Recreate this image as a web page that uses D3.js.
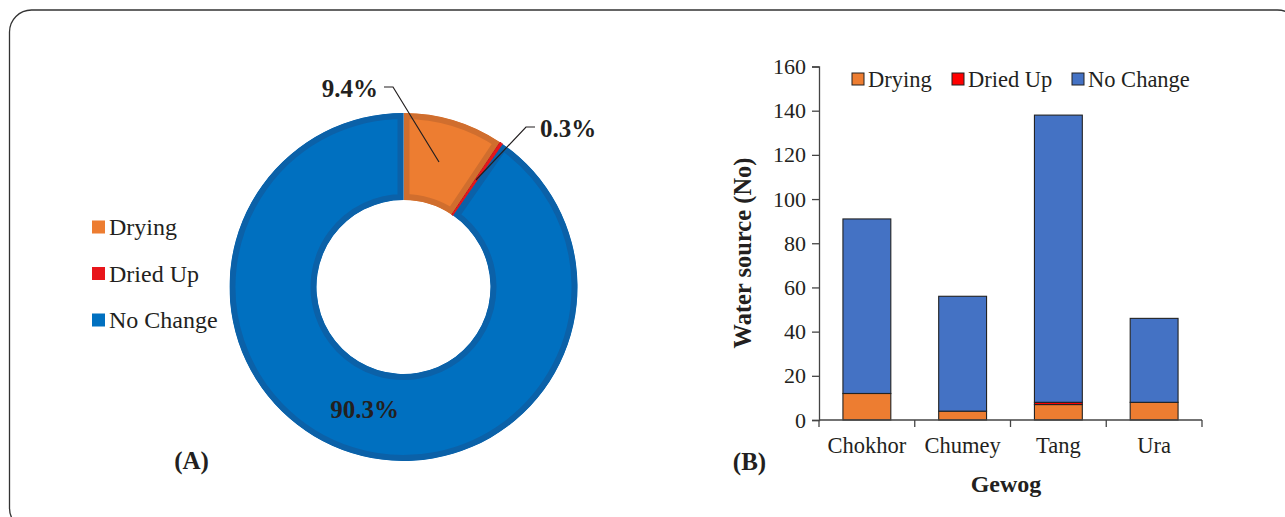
<!DOCTYPE html>
<html><head><meta charset="utf-8">
<script src="https://cdn.jsdelivr.net/npm/d3@7"></script>
<style>body{margin:0;background:#fff}svg{display:block}text{font-family:"Liberation Serif","Times New Roman",serif;fill:#231f20}</style>
</head><body>
<svg id="c" width="1285" height="517"></svg>
<script>
// Donut (A)
const pieCategories = ["Drying", "Dried Up", "No Change"];
const pieValues = [31, 1, 299];
const pieLabels = ["9.4%", "0.3%", "90.3%"];
// Stacked bars (B)
const gewogs = ["Chokhor", "Chumey", "Tang", "Ura"];
const drying = [12, 4, 7, 8];
const driedUp = [0, 0, 1, 0];
const noChange = [79, 52, 130, 38];
const yTicks = [0, 20, 40, 60, 80, 100, 120, 140, 160];

const svg = d3.select("#c");
svg.append("rect").attr("x",9.5).attr("y",10).attr("width",1290).attr("height",520)
  .attr("rx",22).attr("fill","none").attr("stroke","#333").attr("stroke-width",1.3);

// ---------- Donut ----------
const pieFill = ["#ED7D31", "#E8151B", "#0070C0"];
const pieEdge = ["#D06E2E", "#C8141A", "#0B61A8"];
const cx = 403.5, cy = 287, R = 174, r = 87;
const pie = d3.pie().sort(null).value(d => d)(pieValues);
const arc = d3.arc().innerRadius(r).outerRadius(R);
const g = svg.append("g").attr("transform", `translate(${cx},${cy})`);
const defs = svg.append("defs");
pie.forEach((p, i) => {
  defs.append("clipPath").attr("id", "cp" + i).append("path").attr("d", arc(p));
  g.append("path").attr("d", arc(p)).attr("fill", pieFill[i])
    .attr("stroke", pieEdge[i]).attr("stroke-width", i === 1 ? 1 : 12)
    .attr("clip-path", i === 1 ? null : `url(#cp${i})`);
});
// labels
const lab = svg.append("g").attr("font-weight","bold").attr("font-size",25);
lab.append("text").attr("x",378).attr("y",97).attr("text-anchor","end").text(pieLabels[0]);
lab.append("text").attr("x",540).attr("y",137).text(pieLabels[1]);
lab.append("text").attr("x",364.5).attr("y",418).attr("text-anchor","middle").text(pieLabels[2]);
const lead = d3.line();
svg.append("path").attr("d", lead([[384,87],[393,87],[439,162]])).attr("fill","none").attr("stroke","#231f20").attr("stroke-width",1.2);
svg.append("path").attr("d", lead([[535,127],[526,127],[476,180]])).attr("fill","none").attr("stroke","#231f20").attr("stroke-width",1.2);
// legend A
const legA = svg.append("g");
pieCategories.forEach((c, i) => {
  const y = 227 + i * 46.5;
  legA.append("rect").attr("x",92).attr("y",y-6.5).attr("width",13).attr("height",13).attr("fill",pieFill[i]);
  legA.append("text").attr("x",109).attr("y",y).attr("dy","0.35em").attr("font-size",24).text(c);
});
svg.append("text").attr("x",191.5).attr("y",469).attr("text-anchor","middle").attr("font-weight","bold").attr("font-size",25).text("(A)");

// ---------- Bars ----------
const x = d3.scaleBand().domain(gewogs).range([819, 1202]).paddingInner(0.5).paddingOuter(0.25);
const xb = d3.scaleBand().domain(gewogs).range([819, 1202]);
const y = d3.scaleLinear().domain([0, 160]).range([420, 66.5]);
const barColors = ["#ED7D31", "#FF0000", "#4472C4"];
const seriesKeys = ["Drying", "Dried Up", "No Change"];
const rows = gewogs.map((gw, i) => ({gw, "Drying": drying[i], "Dried Up": driedUp[i], "No Change": noChange[i]}));
const stack = d3.stack().keys(seriesKeys)(rows);
const bars = svg.append("g");
stack.forEach((s, si) => {
  s.forEach(d => {
    if (d[1] - d[0] <= 0) return;
    bars.append("rect").attr("x", x(d.data.gw)).attr("width", x.bandwidth())
      .attr("y", y(d[1])).attr("height", y(d[0]) - y(d[1]))
      .attr("fill", barColors[si]).attr("stroke", "#222").attr("stroke-width", 1.1);
  });
});
// y axis
const ya = svg.append("g").attr("transform","translate(819,0)")
  .call(d3.axisLeft(y).tickValues(yTicks).tickSize(7).tickPadding(6).tickFormat(d3.format("d")));
ya.select(".domain").attr("stroke","#444").attr("stroke-width",1.3);
ya.selectAll(".tick line").attr("stroke","#444").attr("stroke-width",1.3);
ya.selectAll(".tick text").attr("font-size",22).attr("font-family","Liberation Serif, serif").attr("fill","#231f20");
// x axis
const xa = svg.append("g").attr("transform","translate(0,420)");
xa.append("line").attr("x1",819).attr("x2",1202).attr("stroke","#444").attr("stroke-width",1.3);
const xEdges = gewogs.map(gw => xb(gw)).concat([xb(gewogs[gewogs.length-1]) + xb.bandwidth()]);
xEdges.forEach(v => xa.append("line").attr("x1",v).attr("x2",v).attr("y1",0).attr("y2",7).attr("stroke","#444").attr("stroke-width",1.3));
gewogs.forEach(gw => xa.append("text").attr("x", xb(gw) + xb.bandwidth()/2).attr("y", 33).attr("text-anchor","middle").attr("font-size",22.5).text(gw));
svg.append("text").attr("x",1006).attr("y",492).attr("text-anchor","middle").attr("font-weight","bold").attr("font-size",24).text("Gewog");
svg.append("text").attr("transform","translate(751,253) rotate(-90)").attr("text-anchor","middle").attr("font-weight","bold").attr("font-size",24.5).text("Water source (No)");
svg.append("text").attr("x",749.5).attr("y",470).attr("text-anchor","middle").attr("font-weight","bold").attr("font-size",25).text("(B)");
// legend B
const legBx = [852, 952, 1072];
seriesKeys.forEach((k, i) => {
  svg.append("rect").attr("x",legBx[i]).attr("y",73).attr("width",12).attr("height",12).attr("fill",barColors[i]).attr("stroke","#222").attr("stroke-width",1);
  svg.append("text").attr("x",legBx[i]+16).attr("y",79).attr("dy","0.35em").attr("font-size",22.5).text(k);
});
</script>
</body></html>
